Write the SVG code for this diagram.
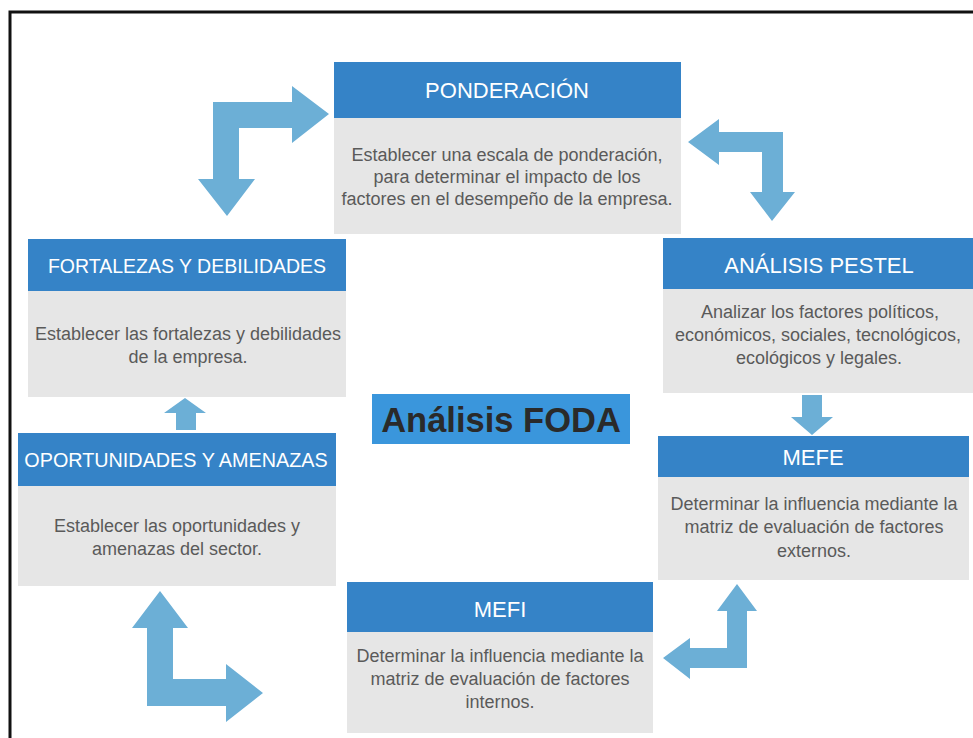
<svg xmlns="http://www.w3.org/2000/svg" width="973" height="738" viewBox="0 0 973 738">
<style>
.hdr{fill:#3583C7}
.body{fill:#E6E6E6}
.ttl{font-family:"Liberation Sans",Arial,sans-serif;font-size:22px;fill:#FFFFFF;text-anchor:middle}
.txt{font-family:"Liberation Sans",Arial,sans-serif;font-size:18px;fill:#5A5A5A;text-anchor:middle}
.arr{fill:#6CAFD6}
</style>
<rect x="0" y="0" width="973" height="738" fill="#FFFFFF"/>
<rect x="10" y="12" width="990" height="760" fill="none" stroke="#111111" stroke-width="3"/>

<g id="connectors">
<path class="arr" d="M213,102 L292,102 L292,86 L329,114 L292,143 L292,128 L239,128 L239,179 L255,179 L227,216 L198,179 L213,179 Z"/>
<path class="arr" d="M688,142 L719,119 L719,132 L783,132 L783,192 L795,192 L772,221 L750,192 L762,192 L762,152 L719,152 L719,165 Z"/>
<path class="arr" d="M802,395 L822,395 L822,417 L833,417 L812,435 L791,417 L802,417 Z"/>
<path class="arr" d="M737,584 L757,611 L747,611 L747,668 L690,668 L690,679 L663,658 L690,638 L690,648 L727,648 L727,611 L717,611 Z"/>
<path class="arr" d="M160,591 L188,628 L173,628 L173,679 L226,679 L226,664 L263,693 L226,722 L226,706 L147,706 L147,628 L132,628 Z"/>
<path class="arr" d="M185,398 L206,413 L196,413 L196,430 L176,430 L176,413 L164,413 Z"/>
</g>

<g id="ponderacion">
<rect class="body" x="334" y="118" width="347" height="116"/>
<rect class="hdr" x="334" y="62" width="347" height="56"/>
<text class="ttl" x="507" y="98">PONDERACIÓN</text>
<text class="txt" x="507" y="161">Establecer una escala de ponderación,</text>
<text class="txt" x="507" y="183">para determinar el impacto de los</text>
<text class="txt" x="507" y="205">factores en el desempeño de la empresa.</text>
</g>

<g id="pestel">
<rect class="body" x="663" y="289" width="312" height="104"/>
<rect class="hdr" x="663" y="238" width="312" height="51"/>
<text class="ttl" x="819" y="273">ANÁLISIS PESTEL</text>
<text class="txt" x="820" y="318">Analizar los factores políticos,</text>
<text class="txt" x="818" y="341">económicos, sociales, tecnológicos,</text>
<text class="txt" x="819" y="364">ecológicos y legales.</text>
</g>

<g id="mefe">
<rect class="body" x="658" y="477" width="311" height="103"/>
<rect class="hdr" x="658" y="436" width="311" height="41"/>
<text class="ttl" x="813" y="465">MEFE</text>
<text class="txt" x="814" y="510">Determinar la influencia mediante la</text>
<text class="txt" x="814" y="533">matriz de evaluación de factores</text>
<text class="txt" x="814" y="557">externos.</text>
</g>

<g id="mefi">
<rect class="body" x="347" y="632" width="306" height="101"/>
<rect class="hdr" x="347" y="582" width="306" height="50"/>
<text class="ttl" x="500" y="617">MEFI</text>
<text class="txt" x="500" y="662">Determinar la influencia mediante la</text>
<text class="txt" x="500" y="685">matriz de evaluación de factores</text>
<text class="txt" x="500" y="708">internos.</text>
</g>

<g id="fortalezas">
<rect class="body" x="28" y="291" width="318" height="106"/>
<rect class="hdr" x="28" y="239" width="318" height="52"/>
<text class="ttl" x="187" y="273" style="font-size:19.5px">FORTALEZAS Y DEBILIDADES</text>
<text class="txt" x="188" y="340">Establecer las fortalezas y debilidades</text>
<text class="txt" x="188" y="363">de la empresa.</text>
</g>

<g id="oportunidades">
<rect class="body" x="18" y="486" width="318" height="100"/>
<rect class="hdr" x="18" y="433" width="318" height="53"/>
<text class="ttl" x="176" y="467" style="font-size:19.8px">OPORTUNIDADES Y AMENAZAS</text>
<text class="txt" x="177" y="532">Establecer las oportunidades y</text>
<text class="txt" x="177" y="555">amenazas del sector.</text>
</g>

<g id="foda">
<rect x="372" y="394" width="258" height="50" fill="#3A96DC"/>
<text x="501" y="432" text-anchor="middle" font-family="Liberation Sans, Arial, sans-serif" font-weight="bold" font-size="34.5" fill="#2A2A2A">Análisis FODA</text>
</g>
</svg>
